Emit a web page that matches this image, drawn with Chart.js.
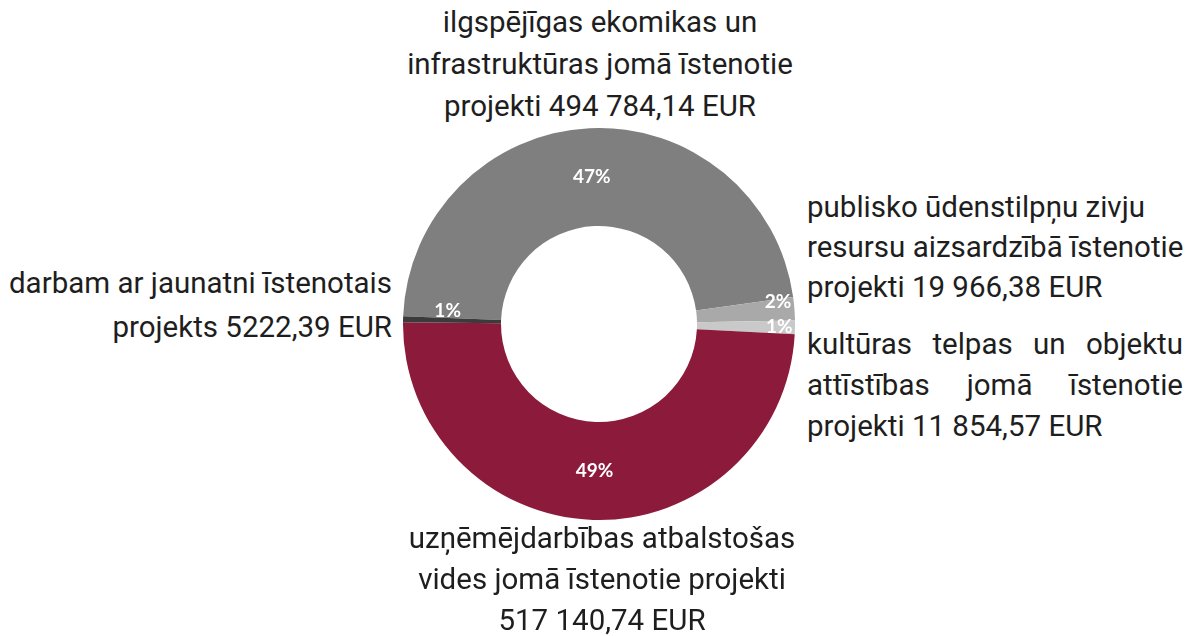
<!DOCTYPE html>
<html>
<head>
<meta charset="utf-8">
<script src="https://cdn.jsdelivr.net/npm/chart.js@4.4.0/dist/chart.umd.min.js"></script>
<style>
  html, body { margin: 0; padding: 0; background: #fff; }
  body {
    width: 1195px; height: 636px; position: relative; overflow: hidden;
    font-family: Roboto, "Noto Sans", sans-serif; color: #1e1e1e;
  }
  #wrap { position: absolute; left: 403px; top: 128px; width: 392px; height: 392px; }
  .lbl { position: absolute; font-size: 29.5px; white-space: nowrap; }
  .lbl div { height: 42px; line-height: 42px; }
  #l-top { left: 300px; width: 600px; top: 1px; text-align: center; }
  #l-bottom { left: 300px; width: 604px; top: 518px; text-align: center; }
  #l-bottom div { height: 41px; line-height: 41px; }
  #l-left { left: 0; width: 392px; top: 261px; text-align: right; }
  #l-left div { height: 44px; line-height: 44px; }
  #l-fish { left: 807px; width: 385px; top: 187px; }
  #l-fish div { height: 40px; line-height: 40px; }
  #l-cult { left: 807px; width: 376px; top: 324px; }
  #l-cult div { height: 41px; line-height: 41px; }
  .just { text-align: justify; text-align-last: justify; }
</style>
</head>
<body>
<div id="wrap"><canvas id="chart"></canvas></div>

<div class="lbl" id="l-top"></div>
<div class="lbl" id="l-bottom"></div>
<div class="lbl" id="l-left"></div>
<div class="lbl" id="l-fish"></div>
<div class="lbl" id="l-cult"></div>

<script>
// slices in drawing order (clockwise)
const categories = [
  'ilgspējīgas ekomikas un infrastruktūras jomā īstenotie projekti',
  'publisko ūdenstilpņu zivju resursu aizsardzībā īstenotie projekti',
  'kultūras telpas un objektu attīstības jomā īstenotie projekti',
  'uzņēmējdarbības atbalstošas vides jomā īstenotie projekti',
  'darbam ar jaunatni īstenotais projekts'
]
const amounts = [494784.14, 19966.38, 11854.57, 517140.74, 5222.39]
const amountLabels = ['494 784,14 EUR', '19 966,38 EUR', '11 854,57 EUR', '517 140,74 EUR', '5222,39 EUR']
const pctLabels = ['47%', '2%', '1%', '49%', '1%']
const colors = ['#7f7f7f', '#a9a9a9', '#c9c9c9', '#8c1b3b', '#3b3b3b']

// outside text blocks, one entry per line
const topLines = ['ilgspējīgas ekomikas un', 'infrastruktūras jomā īstenotie', 'projekti ' + amountLabels[0]]
const fishLines = ['publisko ūdenstilpņu zivju', 'resursu aizsardzībā īstenotie', 'projekti ' + amountLabels[1]]
const cultLines = ['kultūras telpas un objektu', 'attīstības jomā īstenotie', 'projekti ' + amountLabels[2]]
const bottomLines = ['uzņēmējdarbības atbalstošas', 'vides jomā īstenotie projekti', amountLabels[3]]
const leftLines = ['darbam ar jaunatni īstenotais', 'projekts ' + amountLabels[4]]

const fillLines = (id, lines, justifyAllButLast = false) => {
  const el = document.getElementById(id)
  lines.forEach((txt, i) => {
    const d = document.createElement('div')
    d.textContent = txt
    if (justifyAllButLast && i < lines.length - 1) d.className = 'just'
    el.appendChild(d)
  })
}
fillLines('l-top', topLines)
fillLines('l-fish', fishLines)
fillLines('l-cult', cultLines, true)
fillLines('l-bottom', bottomLines)
fillLines('l-left', leftLines)

// percent labels on the ring; small slices sit near the outer edge like in the original
const pctLabelPlugin = {
  id: 'pctLabels',
  afterDatasetsDraw(chart, args, opts) {
    const { ctx } = chart
    const meta = chart.getDatasetMeta(0)
    ctx.save()
    ctx.fillStyle = '#ffffff'
    ctx.font = 'bold 19px Lato, "Open Sans", sans-serif'
    ctx.textAlign = 'center'
    ctx.textBaseline = 'middle'
    meta.data.forEach((arc, i) => {
      const p = arc.getProps(['x', 'y', 'startAngle', 'endAngle', 'innerRadius', 'outerRadius'], true)
      const mid = (p.startAngle + p.endAngle) / 2 + (opts.angleShift[i] || 0) * Math.PI / 180
      const r = p.innerRadius + (p.outerRadius - p.innerRadius) * opts.radial[i]
      ctx.fillText(pctLabels[i], p.x + Math.cos(mid) * r, p.y + Math.sin(mid) * r)
    })
    ctx.restore()
  }
}

new Chart(document.getElementById('chart'), {
  type: 'doughnut',
  data: {
    labels: categories,
    datasets: [{
      data: amounts,
      backgroundColor: colors,
      borderWidth: 0
    }]
  },
  options: {
    responsive: true,
    maintainAspectRatio: false,
    animation: false,
    cutout: '50%',
    rotation: 272.3,
    layout: { padding: 0 },
    plugins: {
      legend: { display: false },
      tooltip: { enabled: false },
      pctLabels: {
        radial: [0.5, 0.84, 0.84, 0.5, 0.55],
        angleShift: [0, -2.5, 0, 0, 3.5]
      }
    }
  },
  plugins: [pctLabelPlugin]
})
</script>
</body>
</html>
